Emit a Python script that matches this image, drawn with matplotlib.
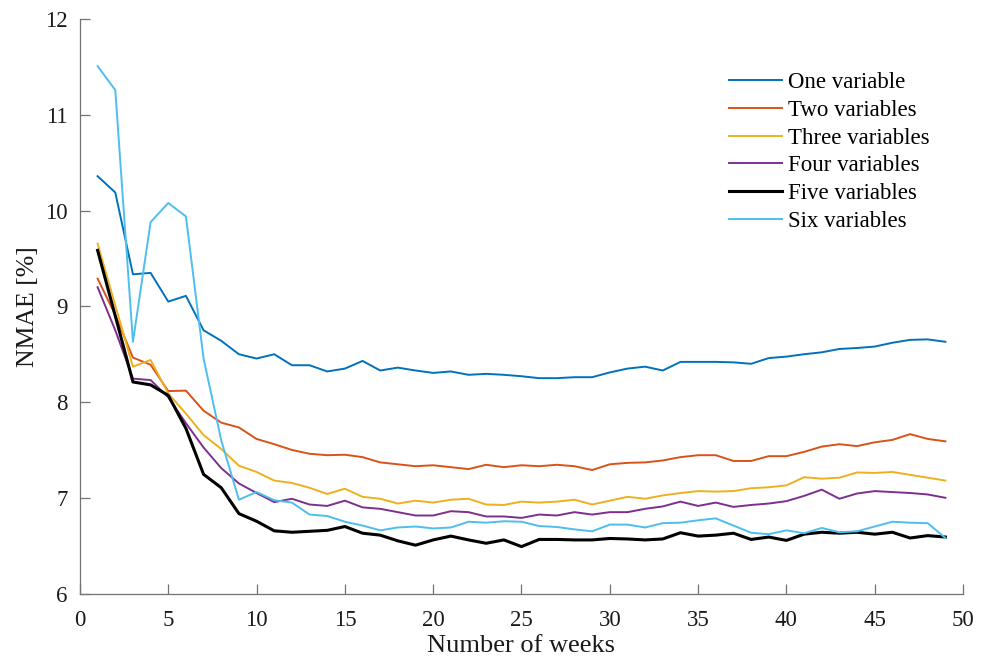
import matplotlib
matplotlib.use("Agg")
import matplotlib.pyplot as plt
import numpy as np

plt.rcParams["font.family"] = ["Liberation Serif", "DejaVu Serif"]

weeks = np.arange(1, 50)

one_var = [10.36, 10.19, 9.335, 9.35, 9.05, 9.11, 8.75, 8.64, 8.50, 8.455,
           8.50, 8.385, 8.385, 8.32, 8.35, 8.43, 8.33, 8.36, 8.33, 8.305,
           8.32, 8.285, 8.295, 8.285, 8.27, 8.25, 8.25, 8.26, 8.26, 8.31,
           8.35, 8.37, 8.33, 8.42, 8.42, 8.42, 8.415, 8.40, 8.46, 8.475,
           8.50, 8.52, 8.555, 8.565, 8.58, 8.62, 8.65, 8.655, 8.63]
two_var = [9.29, 8.91, 8.465, 8.39, 8.115, 8.12, 7.91, 7.785, 7.735, 7.615,
           7.56, 7.50, 7.46, 7.445, 7.45, 7.425, 7.37, 7.35, 7.33, 7.34,
           7.32, 7.30, 7.345, 7.32, 7.34, 7.33, 7.345, 7.33, 7.29, 7.35,
           7.365, 7.37, 7.39, 7.425, 7.445, 7.445, 7.385, 7.385, 7.435, 7.435,
           7.48, 7.535, 7.56, 7.54, 7.58, 7.605, 7.665, 7.615, 7.59]
three_var = [9.655, 9.01, 8.37, 8.44, 8.09, 7.88, 7.655, 7.51, 7.335, 7.27,
             7.18, 7.155, 7.105, 7.04, 7.095, 7.01, 6.99, 6.94, 6.97, 6.95,
             6.98, 6.99, 6.93, 6.925, 6.96, 6.95, 6.96, 6.98, 6.93, 6.97,
             7.01, 6.99, 7.025, 7.05, 7.07, 7.065, 7.07, 7.10, 7.11, 7.13,
             7.215, 7.20, 7.21, 7.265, 7.26, 7.27, 7.24, 7.21, 7.18]
four_var = [9.20, 8.75, 8.245, 8.23, 8.05, 7.78, 7.525, 7.31, 7.15, 7.05,
            6.955, 6.99, 6.93, 6.915, 6.97, 6.90, 6.885, 6.85, 6.815, 6.815,
            6.86, 6.85, 6.805, 6.805, 6.79, 6.825, 6.815, 6.85, 6.825, 6.85,
            6.85, 6.885, 6.91, 6.96, 6.915, 6.95, 6.905, 6.925, 6.94, 6.965,
            7.02, 7.085, 6.99, 7.045, 7.07, 7.06, 7.05, 7.035, 7.00]
five_var = [9.585, 8.90, 8.21, 8.18, 8.07, 7.725, 7.245, 7.105, 6.835, 6.755,
            6.655, 6.64, 6.65, 6.66, 6.70, 6.63, 6.61, 6.55, 6.505, 6.56,
            6.60, 6.56, 6.525, 6.56, 6.49, 6.565, 6.565, 6.56, 6.56, 6.575,
            6.57, 6.56, 6.57, 6.635, 6.60, 6.61, 6.63, 6.565, 6.59, 6.555,
            6.62, 6.64, 6.63, 6.64, 6.62, 6.64, 6.58, 6.605, 6.59]
six_var = [11.51, 11.26, 8.63, 9.88, 10.08, 9.94, 8.455, 7.60, 6.98, 7.06,
           6.975, 6.95, 6.825, 6.81, 6.75, 6.71, 6.66, 6.69, 6.70, 6.68,
           6.69, 6.75, 6.74, 6.755, 6.75, 6.705, 6.695, 6.67, 6.65, 6.72,
           6.72, 6.69, 6.735, 6.74, 6.765, 6.785, 6.71, 6.635, 6.62, 6.66,
           6.63, 6.685, 6.64, 6.65, 6.70, 6.75, 6.74, 6.735, 6.58]

series = [
    ("One variable", one_var, "#0072BD", 1.4),
    ("Two variables", two_var, "#D95319", 1.4),
    ("Three variables", three_var, "#EDB120", 1.4),
    ("Four variables", four_var, "#7E2F8E", 1.4),
    ("Five variables", five_var, "black", 2.2),
    ("Six variables", six_var, "#4DBEEE", 1.4),
]

fig = plt.figure(figsize=(9.81, 6.63), dpi=100)
ax = fig.add_axes([0.0815, 0.1048, 0.9002, 0.8662])

for label, values, color, lw in series:
    ax.plot(weeks, values, color=color, linewidth=lw, label=label)

ax.set_xlim(0, 50)
ax.set_ylim(6, 12)
ax.set_xticks(np.arange(0, 51, 5))
ax.set_yticks(np.arange(6, 13, 1))

for side in ("top", "right"):
    ax.spines[side].set_visible(False)
for side in ("left", "bottom"):
    ax.spines[side].set_color("0.45")
    ax.spines[side].set_linewidth(0.9)

ax.tick_params(direction="in", length=7, width=0.9, color="0.45",
               labelsize=16.5, labelcolor="0.1")
ax.tick_params(axis="x", pad=12)
ax.tick_params(axis="y", pad=9)
ax.set_xlabel("Number of weeks", fontsize=19, color="0.1", labelpad=3)
ax.set_ylabel("NMAE [%]", fontsize=18.5, color="0.1", labelpad=4)

ax.legend(loc="upper left", bbox_to_anchor=(0.734, 0.905),
          bbox_transform=fig.transFigure, frameon=False, fontsize=16.5,
          handlelength=2.3, handletextpad=0.25, labelspacing=0.29,
          borderaxespad=0)

fig.savefig("out.png", dpi=100)
